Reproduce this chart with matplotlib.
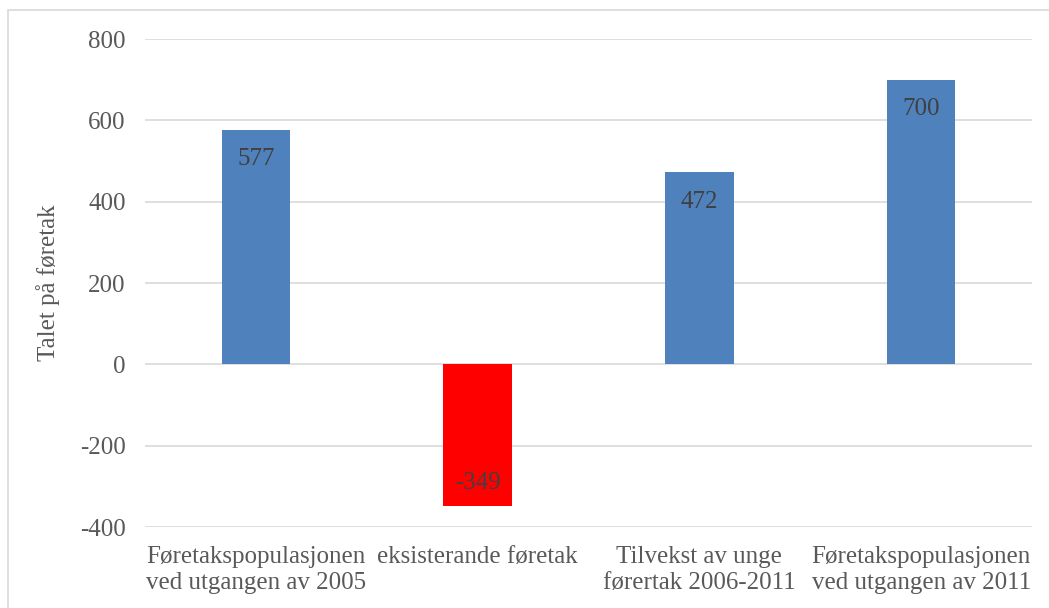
import matplotlib
matplotlib.use("Agg")
import matplotlib.pyplot as plt
from matplotlib.patches import Rectangle

categories = ["Føretakspopulasjonen\nved utgangen av 2005",
              "eksisterande føretak",
              "Tilvekst av unge\nførertak 2006-2011",
              "Føretakspopulasjonen\nved utgangen av 2011"]
values = [577, -349, 472, 700]
colors = ["#4f81bd", "#ff0000", "#4f81bd", "#4f81bd"]
yticks = [-400, -200, 0, 200, 400, 600, 800]

plt.rcParams['font.family'] = ['Liberation Serif', 'DejaVu Serif']

W, H = 1049, 608
fig = plt.figure(figsize=(W / 100, H / 100), dpi=100)
ax = fig.add_axes([145 / W, 1 - 527 / H, (1032 - 145) / W, (527 - 39) / H])

# outer chart border
fig.patches.append(Rectangle((8 / W, -0.05), 1.1, 1 - 10 / H + 0.05,
                             transform=fig.transFigure, fill=False,
                             edgecolor="#d9d9d9", linewidth=1.2))

x = range(len(values))
bars = ax.bar(x, values, width=0.31, color=colors, zorder=3)

for b, v in zip(bars, values):
    cx = b.get_x() + b.get_width() / 2
    if v >= 0:
        ax.text(cx, v - 45, str(v), ha="center", va="top",
                fontsize=18, color="#404040", zorder=4)
    else:
        ax.text(cx, v + 30, str(v), ha="center", va="bottom",
                fontsize=18, color="#404040", zorder=4)

ax.set_xlim(-0.5, len(values) - 0.5)
ax.set_ylim(-400, 800)
ax.set_yticks(yticks)
ax.set_yticklabels([str(t) for t in yticks])
ax.set_xticks(list(x))
ax.set_xticklabels(categories, fontsize=18, color="#595959", linespacing=1.2)
ax.tick_params(axis="y", length=0, pad=14, labelsize=18, labelcolor="#595959")
ax.tick_params(axis="x", length=0, pad=14)
ax.yaxis.grid(True, color="#d9d9d9", linewidth=1.2, zorder=0)
ax.set_axisbelow(True)
for s in ax.spines.values():
    s.set_visible(False)

ax.set_ylabel("Talet på føretak", fontsize=18, color="#595959", labelpad=14)

fig.savefig("out.png", dpi=100)
